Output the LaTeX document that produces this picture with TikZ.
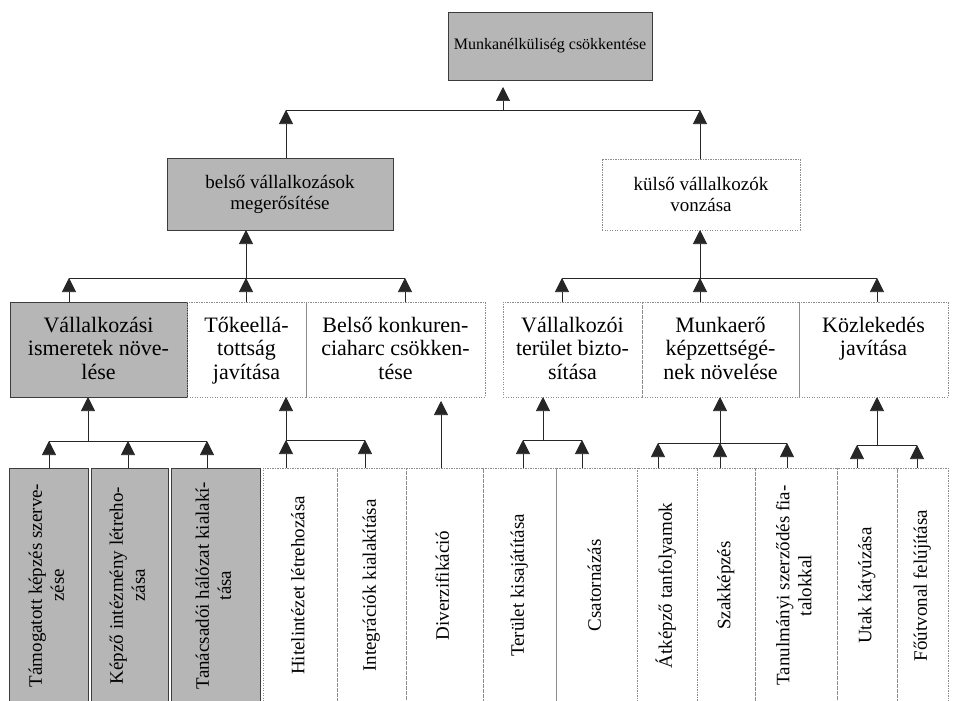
\documentclass[tikz,border=0pt]{standalone}
\usepackage{fontspec}
\usepackage{graphicx}
\setmainfont{Liberation Serif}
\usetikzlibrary{arrows.meta}

\definecolor{boxgray}{RGB}{182,182,182}
\definecolor{edgegray}{RGB}{60,60,60}
\definecolor{dotgray}{RGB}{140,140,140}

\newcommand\ffTop{\fontsize{16}{19}\selectfont}
\newcommand\ffMid{\fontsize{19}{21}\selectfont}
\newcommand\ffRow{\fontsize{22}{23.5}\selectfont}
\newcommand\ffLeaf{\fontsize{19}{22}\selectfont}

% top-aligned text block for the third row of boxes
\newcommand\rowtext[2]{\parbox[c][95pt][t]{#1}{\centering\rule{0pt}{30pt}#2}}
% vertical text for the bottom row
\newcommand\leaftext[1]{\rotatebox{90}{\begin{tabular}{@{}c@{}}#1\end{tabular}}}

\tikzset{
  graybox/.style={draw=edgegray, line width=0.8pt, fill=boxgray, inner sep=0pt, outer sep=0pt, align=center},
  dotbox/.style={draw=dotgray, line width=0.7pt, dash pattern=on 1.2pt off 1.3pt, inner sep=0pt, outer sep=0pt, align=center},
  link/.style={draw=black!85, line width=0.7pt},
  up/.style={link, -{Triangle[length=14pt,width=14pt]}},
  leaf/.style={minimum height=235pt, font=\ffLeaf},
}

\begin{document}
\begin{tikzpicture}[x=1pt,y=-1pt]
\useasboundingbox (0,0) rectangle (954,701);
\fill[white] (0,0) rectangle (954,701);

% level 1
\node[graybox, minimum width=204pt, minimum height=68pt, font=\ffTop] (top) at (550,46) {Munkanélküliség csökkentése};

% level 2
\node[graybox, minimum width=226pt, minimum height=72pt, font=\ffMid] (inner) at (280,194) {belső vállalkozások\\megerősítése};
\node[dotbox, minimum width=198pt, minimum height=71pt, font=\ffMid] (outer) at (701,194.5) {külső vállalkozók\\vonzása};

% level 3
\node[graybox, font=\ffRow] (v1) at (98.5,349.5) {\rowtext{177pt}{Vállalkozási\\ismeretek növe-\\lése}};
\node[dotbox, font=\ffRow] (v2) at (246.5,349.5) {\rowtext{119pt}{Tőkeellá-\\tottság\\javítása}};
\node[dotbox, font=\ffRow] (v3) at (395.5,349.5) {\rowtext{179pt}{Belső konkuren-\\ciaharc csökken-\\tése}};
\node[dotbox, font=\ffRow] (v4) at (572.5,349.5) {\rowtext{139pt}{Vállalkozói\\terület bizto-\\sítása}};
\node[dotbox, font=\ffRow] (v5) at (720.5,349.5) {\rowtext{157pt}{Munkaerő\\képzettségé-\\nek növelése}};
\node[dotbox, font=\ffRow] (v6) at (873.5,349.5) {\rowtext{149pt}{Közlekedés\\javítása}};

% bottom row
\node[graybox, leaf, minimum width=79pt] (a) at (48.5,585.5) {\leaftext{Támogatott képzés szerve-\\zése}};
\node[graybox, leaf, minimum width=77pt] (b) at (129.5,585.5) {\leaftext{Képző intézmény létreho-\\zása}};
\node[graybox, leaf, minimum width=89pt] (c) at (215.5,585.5) {\leaftext{Tanácsadói hálózat kialakí-\\tása}};
\node[dotbox, leaf, minimum width=74pt] (d) at (300,585.5) {\leaftext{Hitelintézet létrehozása}};
\node[dotbox, leaf, minimum width=69pt] (e) at (371.5,585.5) {\leaftext{Integrációk kialakítása}};
\node[dotbox, leaf, minimum width=77pt] (f) at (444.5,585.5) {\leaftext{Diverzifikáció}};
\node[dotbox, leaf, minimum width=73pt] (g) at (519.5,585.5) {\leaftext{Terület kisajátítása}};
\node[dotbox, leaf, minimum width=81pt] (h) at (596.5,585.5) {\leaftext{Csatornázás}};
\node[dotbox, leaf, minimum width=60pt] (i) at (667,585.5) {\leaftext{Átképző tanfolyamok}};
\node[dotbox, leaf, minimum width=58pt] (j) at (726,585.5) {\leaftext{Szakképzés}};
\node[dotbox, leaf, minimum width=82pt] (k) at (796,585.5) {\leaftext{Tanulmányi szerződés fia-\\talokkal}};
\node[dotbox, leaf, minimum width=60pt] (l) at (867,585.5) {\leaftext{Utak kátyúzása}};
\node[dotbox, leaf, minimum width=51pt] (m) at (922.5,585.5) {\leaftext{Főútvonal felújítása}};

% junctions: level 1
\coordinate (j0) at (503,110);
\coordinate (j1) at (286,110);
\coordinate (j2) at (700,110);
\draw[link] (j1) -- (j2);
\draw[up, shorten >=7pt] (j0) -- (j0 |- top.south);
\draw[up] (j1 |- inner.north) -- (j1);
\draw[up] (j2 |- outer.north) -- (j2);

% junctions: level 2, left
\coordinate (k0) at (246,278);
\coordinate (k1) at (69,278);
\coordinate (k2) at (405,278);
\draw[link] (k1) -- (k2);
\draw[up] (k0) -- (k0 |- inner.south);
\draw[up] (k1 |- v1.north) -- (k1);
\draw[up] (k0 |- v2.north) -- (k0);
\draw[up] (k2 |- v3.north) -- (k2);

% junctions: level 2, right
\coordinate (m0) at (700,278);
\coordinate (m1) at (562,278);
\coordinate (m2) at (877,278);
\draw[link] (m1) -- (m2);
\draw[up] (m0) -- (m0 |- outer.south);
\draw[up] (m1 |- v4.north) -- (m1);
\draw[up] (m0 |- v5.north) -- (m0);
\draw[up] (m2 |- v6.north) -- (m2);

% knowledge
\coordinate (n0) at (88,441);
\coordinate (n1) at (49,441);
\coordinate (n2) at (128,441);
\coordinate (n3) at (207,441);
\draw[link] (n1) -- (n3);
\draw[up] (n0) -- (n0 |- v1.south);
\draw[up] (n1 |- a.north) -- (n1);
\draw[up] (n2 |- b.north) -- (n2);
\draw[up] (n3 |- c.north) -- (n3);

% capital
\coordinate (p0) at (286,440);
\coordinate (p1) at (365,440);
\draw[link] (p0) -- (p1);
\draw[up] (p0) -- (p0 |- v2.south);
\draw[up] (p0 |- d.north) -- (p0);
\draw[up] (p1 |- e.north) -- (p1);

% competition
\coordinate (q0) at (441,440);
\draw[up, shorten >=4pt] (q0 |- f.north) -- (q0 |- v3.south);

% land
\coordinate (r0) at (543,440);
\coordinate (r1) at (523,440);
\coordinate (r2) at (582,440);
\draw[link] (r1) -- (r2);
\draw[up] (r0) -- (r0 |- v4.south);
\draw[up] (r1 |- g.north) -- (r1);
\draw[up] (r2 |- h.north) -- (r2);

% workforce
\coordinate (s0) at (720,443);
\coordinate (s1) at (658,443);
\coordinate (s2) at (787,443);
\draw[link] (s1) -- (s2);
\draw[up] (s0) -- (s0 |- v5.south);
\draw[up] (s1 |- i.north) -- (s1);
\draw[up] (s0 |- j.north) -- (s0);
\draw[up] (s2 |- k.north) -- (s2);

% transport
\coordinate (t0) at (877,445);
\coordinate (t1) at (857,445);
\coordinate (t2) at (917,445);
\draw[link] (t1) -- (t2);
\draw[up] (t0) -- (t0 |- v6.south);
\draw[up] (t1 |- l.north) -- (t1);
\draw[up] (t2 |- m.north) -- (t2);
\end{tikzpicture}
\end{document}
